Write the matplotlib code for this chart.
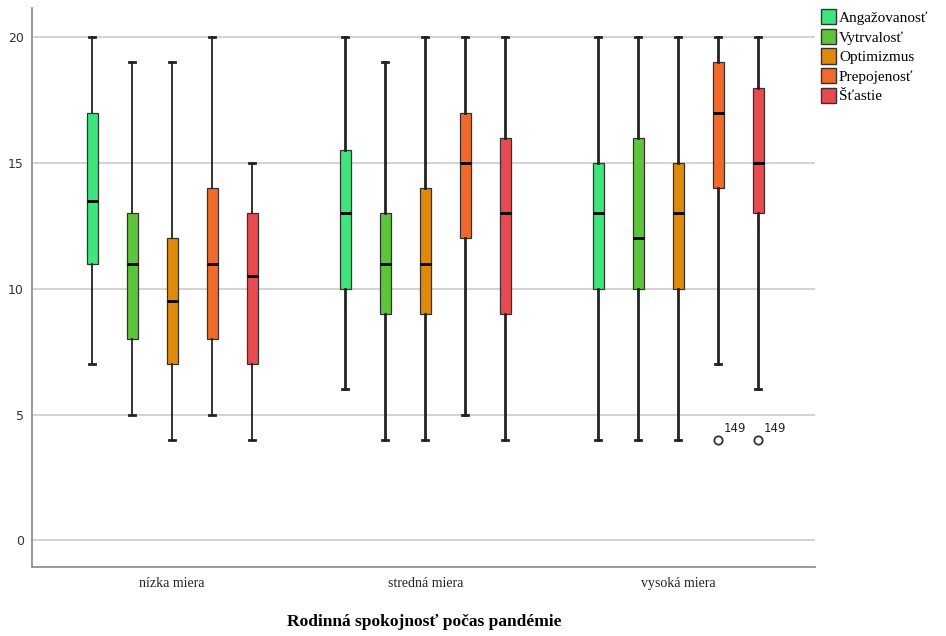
import matplotlib.pyplot as plt
from matplotlib.patches import Patch

groups = ['nízka miera', 'stredná miera', 'vysoká miera']
series = ['Angažovanosť', 'Vytrvalosť', 'Optimizmus', 'Prepojenosť', 'Šťastie']
colors = ['#3ee57c', '#5ec43b', '#e08a0c', '#f26a2b', '#e84a50']

# per group, per series: (whislo, q1, med, q3, whishi)
stats_low = [(7, 11, 13.5, 17, 20), (5, 8, 11, 13, 19), (4, 7, 9.5, 12, 19),
             (5, 8, 11, 14, 20), (4, 7, 10.5, 13, 15)]
stats_mid = [(6, 10, 13, 15.5, 20), (4, 9, 11, 13, 19), (4, 9, 11, 14, 20),
             (5, 12, 15, 17, 20), (4, 9, 13, 16, 20)]
stats_high = [(4, 10, 13, 15, 20), (4, 10, 12, 16, 20), (4, 10, 13, 15, 20),
              (7, 14, 17, 19, 20), (6, 13, 15, 18, 20)]
outliers_high = [[], [], [], [4], [4]]
outlier_ids = [None, None, None, '149', '149']

fig = plt.figure(figsize=(9.46, 6.36), dpi=100)
ax = fig.add_axes([0.034, 0.108, 0.828, 0.879])

all_stats = [stats_low, stats_mid, stats_high]
whisk_w = [1.3, 2.0, 2.0]
offsets = [-2, -1, 0, 1, 2]
gap = 6.325
for g, st in enumerate(all_stats):
    for i, (lo, q1, med, q3, hi) in enumerate(st):
        fl = outliers_high[i] if g == 2 else []
        pos = g * gap + offsets[i]
        ax.bxp([dict(whislo=lo, q1=q1, med=med, q3=q3, whishi=hi, fliers=fl)],
               positions=[pos], widths=0.27, patch_artist=True, showcaps=True,
               boxprops=dict(facecolor=colors[i], edgecolor='#333333', linewidth=0.9),
               medianprops=dict(color='black', linewidth=2),
               whiskerprops=dict(color='#222222', linewidth=whisk_w[g]),
               capprops=dict(color='#222222', linewidth=2),
               capwidths=0.15,
               flierprops=dict(marker='o', markersize=6, markerfacecolor='white',
                               markeredgecolor='#333333', markeredgewidth=1.3))
        if g == 2 and outlier_ids[i]:
            ax.text(pos + 0.12, fl[0] + 0.2, outlier_ids[i], fontsize=8.5,
                    ha='left', va='bottom', color='#222222')

ax.set_ylim(-1.07, 21.15)
ax.set_xlim(-3.5, 16.075)
ax.set_yticks([0, 5, 10, 15, 20])
ax.set_xticks([0, gap, 2 * gap])
ax.set_xticklabels(groups, family='Liberation Serif', fontsize=10, color='#222222')
ax.tick_params(axis='y', length=0, labelsize=9, labelcolor='#333333', pad=6)
ax.tick_params(axis='x', length=0, pad=7)
ax.yaxis.grid(True, color='#cccccc', linewidth=1.2)
ax.set_axisbelow(True)
for s in ['top', 'right']:
    ax.spines[s].set_visible(False)
for s in ['left', 'bottom']:
    ax.spines[s].set_color('#888888')
    ax.spines[s].set_linewidth(1.2)

ax.set_xlabel('Rodinná spokojnosť počas pandémie', family='Liberation Serif',
              fontsize=12.5, fontweight='bold', labelpad=17)

handles = [Patch(facecolor=c, edgecolor='#333333', label=s) for c, s in zip(colors, series)]
fig.legend(handles=handles, loc='upper left', bbox_to_anchor=(0.861, 0.995),
           frameon=False, prop={'family': 'Liberation Serif', 'size': 11},
           handlelength=1.0, handleheight=1.15, handletextpad=0.2, labelspacing=0.25,
           borderaxespad=0)

fig.savefig('out.png', dpi=100, facecolor='white')
